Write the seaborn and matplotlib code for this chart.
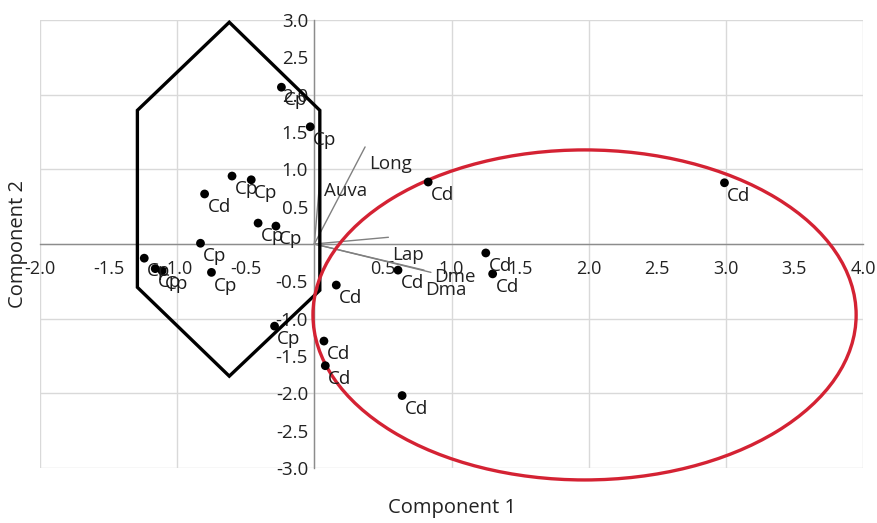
import numpy as np
import pandas as pd
import matplotlib
matplotlib.use("Agg")
import matplotlib.pyplot as plt
from matplotlib.patches import Polygon, Ellipse
import seaborn as sns

# scores (Component 1, Component 2) and group of each specimen
pc1 = [-0.24, -0.03, -0.60, -0.46, -0.80, -0.41, -0.28, -0.83, -1.24, -1.16, -1.11,
       -0.75, -0.29, 0.16, 0.83, 0.61, 1.25, 1.30, 2.99, 0.07, 0.08, 0.64]
pc2 = [2.10, 1.57, 0.91, 0.86, 0.67, 0.28, 0.24, 0.01, -0.19, -0.33, -0.36,
       -0.38, -1.10, -0.55, 0.83, -0.35, -0.12, -0.40, 0.82, -1.30, -1.63, -2.03]
group = ["Cp", "Cp", "Cp", "Cp", "Cd", "Cp", "Cp", "Cp", "Cp", "Cp", "Cp",
         "Cp", "Cp", "Cd", "Cd", "Cd", "Cd", "Cd", "Cd", "Cd", "Cd", "Cd"]

# loadings (biplot vectors)
var_names = ["Long", "Auva", "Lap", "Dme", "Dma"]
load1 = [0.37, 0.04, 0.54, 0.85, 0.80]
load2 = [1.30, 0.85, 0.09, -0.38, -0.35]

# hexagon around the Cp group
hex_x = [-0.62, 0.04, 0.04, -0.62, -1.29, -1.29]
hex_y = [2.97, 1.79, -0.62, -1.77, -0.58, 1.79]

# ellipse around the Cd group (center, width, height)
ell_center = (1.97, -0.95)
ell_width = 3.96
ell_height = 4.42

df = pd.DataFrame({"pc1": pc1, "pc2": pc2, "group": group})

sns.set_style("white")
plt.rcParams['font.family'] = ['Open Sans', 'DejaVu Sans']

fig = plt.figure(figsize=(8.77, 5.23), dpi=100)
ax = fig.add_axes([40 / 877, 1 - 468 / 523, 823 / 877, 448 / 523])

ax.set_xlim(-2, 4)
ax.set_ylim(-3, 3)

# grid on integers only
for gx in range(-2, 5):
    ax.axvline(gx, color='#d9d9d9', lw=1, zorder=0)
for gy in range(-3, 4):
    ax.axhline(gy, color='#d9d9d9', lw=1, zorder=0)

# axes crossing at origin
for s in ['top', 'right']:
    ax.spines[s].set_visible(False)
ax.spines['left'].set_position('zero')
ax.spines['bottom'].set_position('zero')
ax.spines['left'].set_color('#8c8c8c')
ax.spines['bottom'].set_color('#8c8c8c')
ax.spines['left'].set_linewidth(1)
ax.spines['bottom'].set_linewidth(1)

xt = [v for v in np.arange(-2.0, 4.01, 0.5) if abs(v) > 1e-9]
yt = [v for v in np.arange(-3.0, 3.01, 0.5) if abs(v) > 1e-9]
ax.set_xticks(xt)
ax.set_yticks(yt)
ax.set_xticklabels([f"{v:.1f}" for v in xt])
ax.set_yticklabels([f"{v:.1f}" for v in yt])
ax.tick_params(axis='x', direction='inout', length=5, width=1, color='#8c8c8c',
               labelsize=13, labelcolor='#222222', pad=9)
ax.tick_params(axis='y', direction='inout', length=5, width=1, color='#8c8c8c',
               labelsize=13.5, labelcolor='#222222', pad=2)

# loadings vectors
for i in range(len(var_names)):
    ax.plot([0, load1[i]], [0, load2[i]], color='#808080', lw=1, zorder=2)
vec_offsets = {"Long": (3, -6), "Auva": (3, -1), "Lap": (3, -6), "Dme": (2, 3), "Dma": (1, -8)}
for i, name in enumerate(var_names):
    ax.annotate(name, (load1[i], load2[i]), xytext=vec_offsets[name],
                textcoords='offset points', ha='left', va='top',
                fontsize=13.5, color='#222222', zorder=3)

# hexagon and ellipse
ax.add_patch(Polygon(np.column_stack([hex_x, hex_y]), closed=True, fill=False,
                     edgecolor='black', lw=2.4, zorder=4, clip_on=False))
ax.add_patch(Ellipse(ell_center, ell_width, ell_height, fill=False,
                     edgecolor='#d42233', lw=2.4, zorder=4, clip_on=False))

# scores
sns.scatterplot(data=df, x="pc1", y="pc2", color='black', s=40, edgecolor='none',
                ax=ax, zorder=5, legend=False)
for i in range(len(df)):
    ax.annotate(df["group"][i], (df["pc1"][i], df["pc2"][i]), xytext=(2, -3),
                textcoords='offset points', ha='left', va='top',
                fontsize=13.5, color='#1a1a1a', zorder=6)

ax.set_xlabel("")
ax.set_ylabel("")
fig.text(452 / 877, 1 - 508 / 523, "Component 1", ha='center', va='center',
         fontsize=14.5, color='#222222')
fig.text(18 / 877, 1 - 244 / 523, "Component 2", ha='center', va='center',
         rotation=90, fontsize=14.5, color='#222222')

fig.savefig("out.png", dpi=100, facecolor='white')
